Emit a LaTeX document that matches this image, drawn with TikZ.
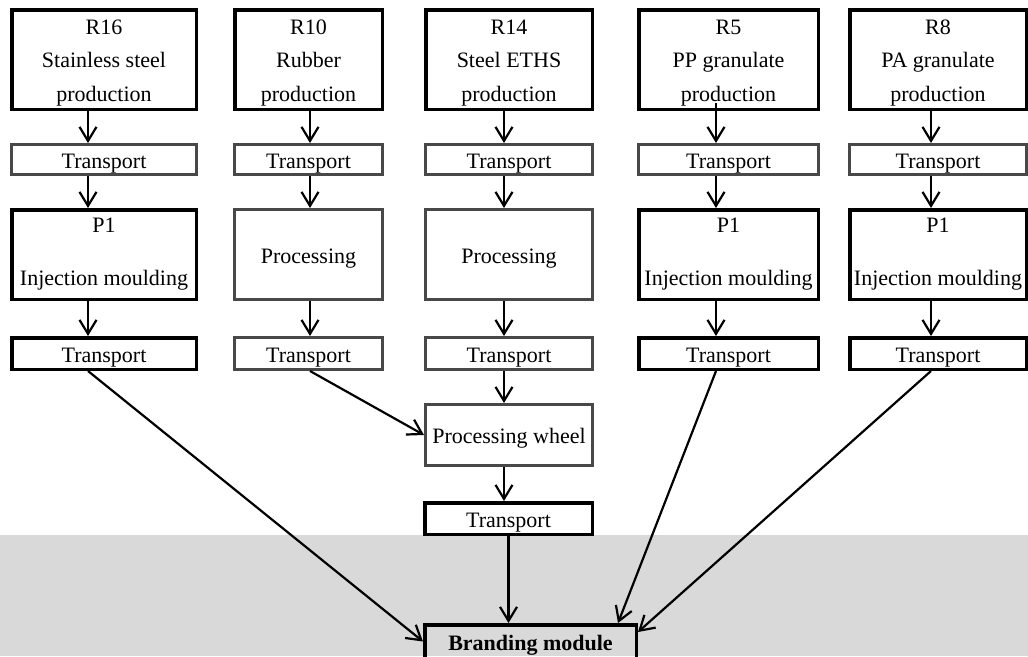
\documentclass[tikz,border=0pt]{standalone}
\usepackage{fontspec}
\setmainfont{Liberation Serif}
\usetikzlibrary{arrows.meta}
\definecolor{bandgray}{RGB}{217,217,217}
\definecolor{framegray}{RGB}{72,72,72}
\begin{document}
\begin{tikzpicture}[x=1pt,y=-1pt,
  heavybox/.style={draw=black,line width=3.5pt,fill=white,inner sep=0pt},
  lightbox/.style={draw=framegray,line width=2.6pt,fill=white,inner sep=0pt},
  onetext/.style={font=\fontsize{22}{26}\selectfont,text height=18.5pt,text depth=1.5pt},
  threetext/.style={align=center,inner sep=0pt,font=\fontsize{22}{33.4}\selectfont},
  twotext/.style={align=center,inner sep=0pt,font=\fontsize{22}{53}\selectfont},
  arr/.style={line width=2.2pt,-{Straight Barb[length=14pt,width=17pt]}},
  rowA/.style={minimum height=99.5pt},
  rowBl/.style={minimum height=30.4pt},
  rowCh/.style={minimum height=89.5pt},
  rowCl/.style={minimum height=90.4pt},
  rowDh/.style={minimum height=31.5pt},
  rowDl/.style={minimum height=32.4pt}
]
\useasboundingbox (0,0) rectangle (1028,656);

% grey band behind the final module
\fill[bandgray] (0,535) rectangle (1028,656);

% vertical flow axes of the five columns
\coordinate (a1) at (88,0);
\coordinate (a2) at (310,0);
\coordinate (a3) at (504,0);
\coordinate (a4) at (716,0);
\coordinate (a5) at (931,0);

% ---- raw material production
\node[heavybox,rowA,minimum width=184.5pt] (r16) at (104,59.5) {};
\node[heavybox,rowA,minimum width=147.5pt] (r10) at (308.5,59.5) {};
\node[heavybox,rowA,minimum width=166.5pt] (r14) at (509,59.5) {};
\node[heavybox,rowA,minimum width=179.5pt] (r5) at (728.5,59.5) {};
\node[heavybox,rowA,minimum width=176.5pt] (r8) at (938,59.5) {};
\node[threetext] (r16t) at (104,63) {R16\\Stainless steel\\production};
\node[threetext] (r10t) at (308.5,63) {R10\\Rubber\\production};
\node[threetext] (r14t) at (509,63) {R14\\Steel ETHS\\production};
\node[threetext] (r5t) at (728.5,63) {R5\\PP granulate\\production};
\node[threetext] (r8t) at (938,63) {R8\\PA granulate\\production};

% ---- first transport
\node[lightbox,rowBl,minimum width=185.4pt,onetext] (tra1) at (104,159.5) {Transport};
\node[lightbox,rowBl,minimum width=148.4pt,onetext] (tra2) at (308.5,159.5) {Transport};
\node[lightbox,rowBl,minimum width=167.4pt,onetext] (tra3) at (509,159.5) {Transport};
\node[lightbox,rowBl,minimum width=180.4pt,onetext] (tra4) at (728.5,159.5) {Transport};
\node[lightbox,rowBl,minimum width=177.4pt,onetext] (tra5) at (938,159.5) {Transport};

% ---- processing
\node[heavybox,rowCh,minimum width=184.5pt] (p1a) at (104,254.5) {};
\node[lightbox,rowCl,minimum width=148.4pt,onetext] (proc2) at (308.5,254.5) {Processing};
\node[lightbox,rowCl,minimum width=167.4pt,onetext] (proc3) at (509,254.5) {Processing};
\node[heavybox,rowCh,minimum width=179.5pt] (p1d) at (728.5,254.5) {};
\node[heavybox,rowCh,minimum width=176.5pt] (p1e) at (938,254.5) {};
\node[twotext] (p1at) at (104,254) {P1\\Injection moulding};
\node[twotext] (p1dt) at (728.5,254) {P1\\Injection moulding};
\node[twotext] (p1et) at (938,254) {P1\\Injection moulding};

% ---- second transport
\node[heavybox,rowDh,minimum width=184.5pt,onetext] (trb1) at (104,353.5) {Transport};
\node[lightbox,rowDl,minimum width=148.4pt,onetext] (trb2) at (308.5,353.5) {Transport};
\node[lightbox,rowDl,minimum width=167.4pt,onetext] (trb3) at (509,353.5) {Transport};
\node[heavybox,rowDh,minimum width=179.5pt,onetext] (trb4) at (728.5,353.5) {Transport};
\node[heavybox,rowDh,minimum width=176.5pt,onetext] (trb5) at (938,353.5) {Transport};

% ---- wheel assembly
\node[lightbox,minimum width=167.4pt,minimum height=61.4pt,onetext] (wheel) at (509,435) {Processing wheel};
\node[heavybox,minimum width=167.5pt,minimum height=31.5pt,onetext] (trc) at (508.5,518.5) {Transport};

% ---- final module
\node[draw=black,line width=3.5pt,inner sep=0pt,minimum width=211.5pt,minimum height=33.5pt,
      font=\bfseries\fontsize{22}{26}\selectfont,text height=18.5pt,text depth=1.5pt]
      (brand) at (530.5,641.5) {Branding module};

% ---- vertical flows
\draw[arr] (r16.south -| a1) -- (tra1.north -| a1);
\draw[arr] (tra1.south -| a1) -- (p1a.north -| a1);
\draw[arr] (p1a.south -| a1) -- (trb1.north -| a1);

\draw[arr] (r10.south -| a2) -- (tra2.north -| a2);
\draw[arr] (tra2.south -| a2) -- (proc2.north -| a2);
\draw[arr] (proc2.south -| a2) -- (trb2.north -| a2);

\draw[arr] (r14.south -| a3) -- (tra3.north -| a3);
\draw[arr] (tra3.south -| a3) -- (proc3.north -| a3);
\draw[arr] (proc3.south -| a3) -- (trb3.north -| a3);
\draw[arr] (trb3.south -| a3) -- (wheel.north -| a3);
\draw[arr] (wheel.south -| a3) -- (trc.north -| a3);

\draw[arr] ([yshift=8pt]r5.south -| a4) -- (tra4.north -| a4);
\draw[arr] (tra4.south -| a4) -- (p1d.north -| a4);
\draw[arr] (p1d.south -| a4) -- (trb4.north -| a4);

\draw[arr] (r8.south -| a5) -- (tra5.north -| a5);
\draw[arr] (tra5.south -| a5) -- (p1e.north -| a5);
\draw[arr] (p1e.south -| a5) -- (trb5.north -| a5);

% ---- converging flows
\draw[arr] (trb2.south -| a2) -- (wheel.west);
\draw[arr] (trb1.south -| a1) -- (brand.west);
\draw[arr] (trc.south) -- (brand.north -| trc.south);
\draw[arr] (trb4.south -| a4) -- ([xshift=-20pt]brand.north east);
\draw[arr] (trb5.south -| a5) -- ([yshift=9.5pt]brand.east);
\end{tikzpicture}
\end{document}
